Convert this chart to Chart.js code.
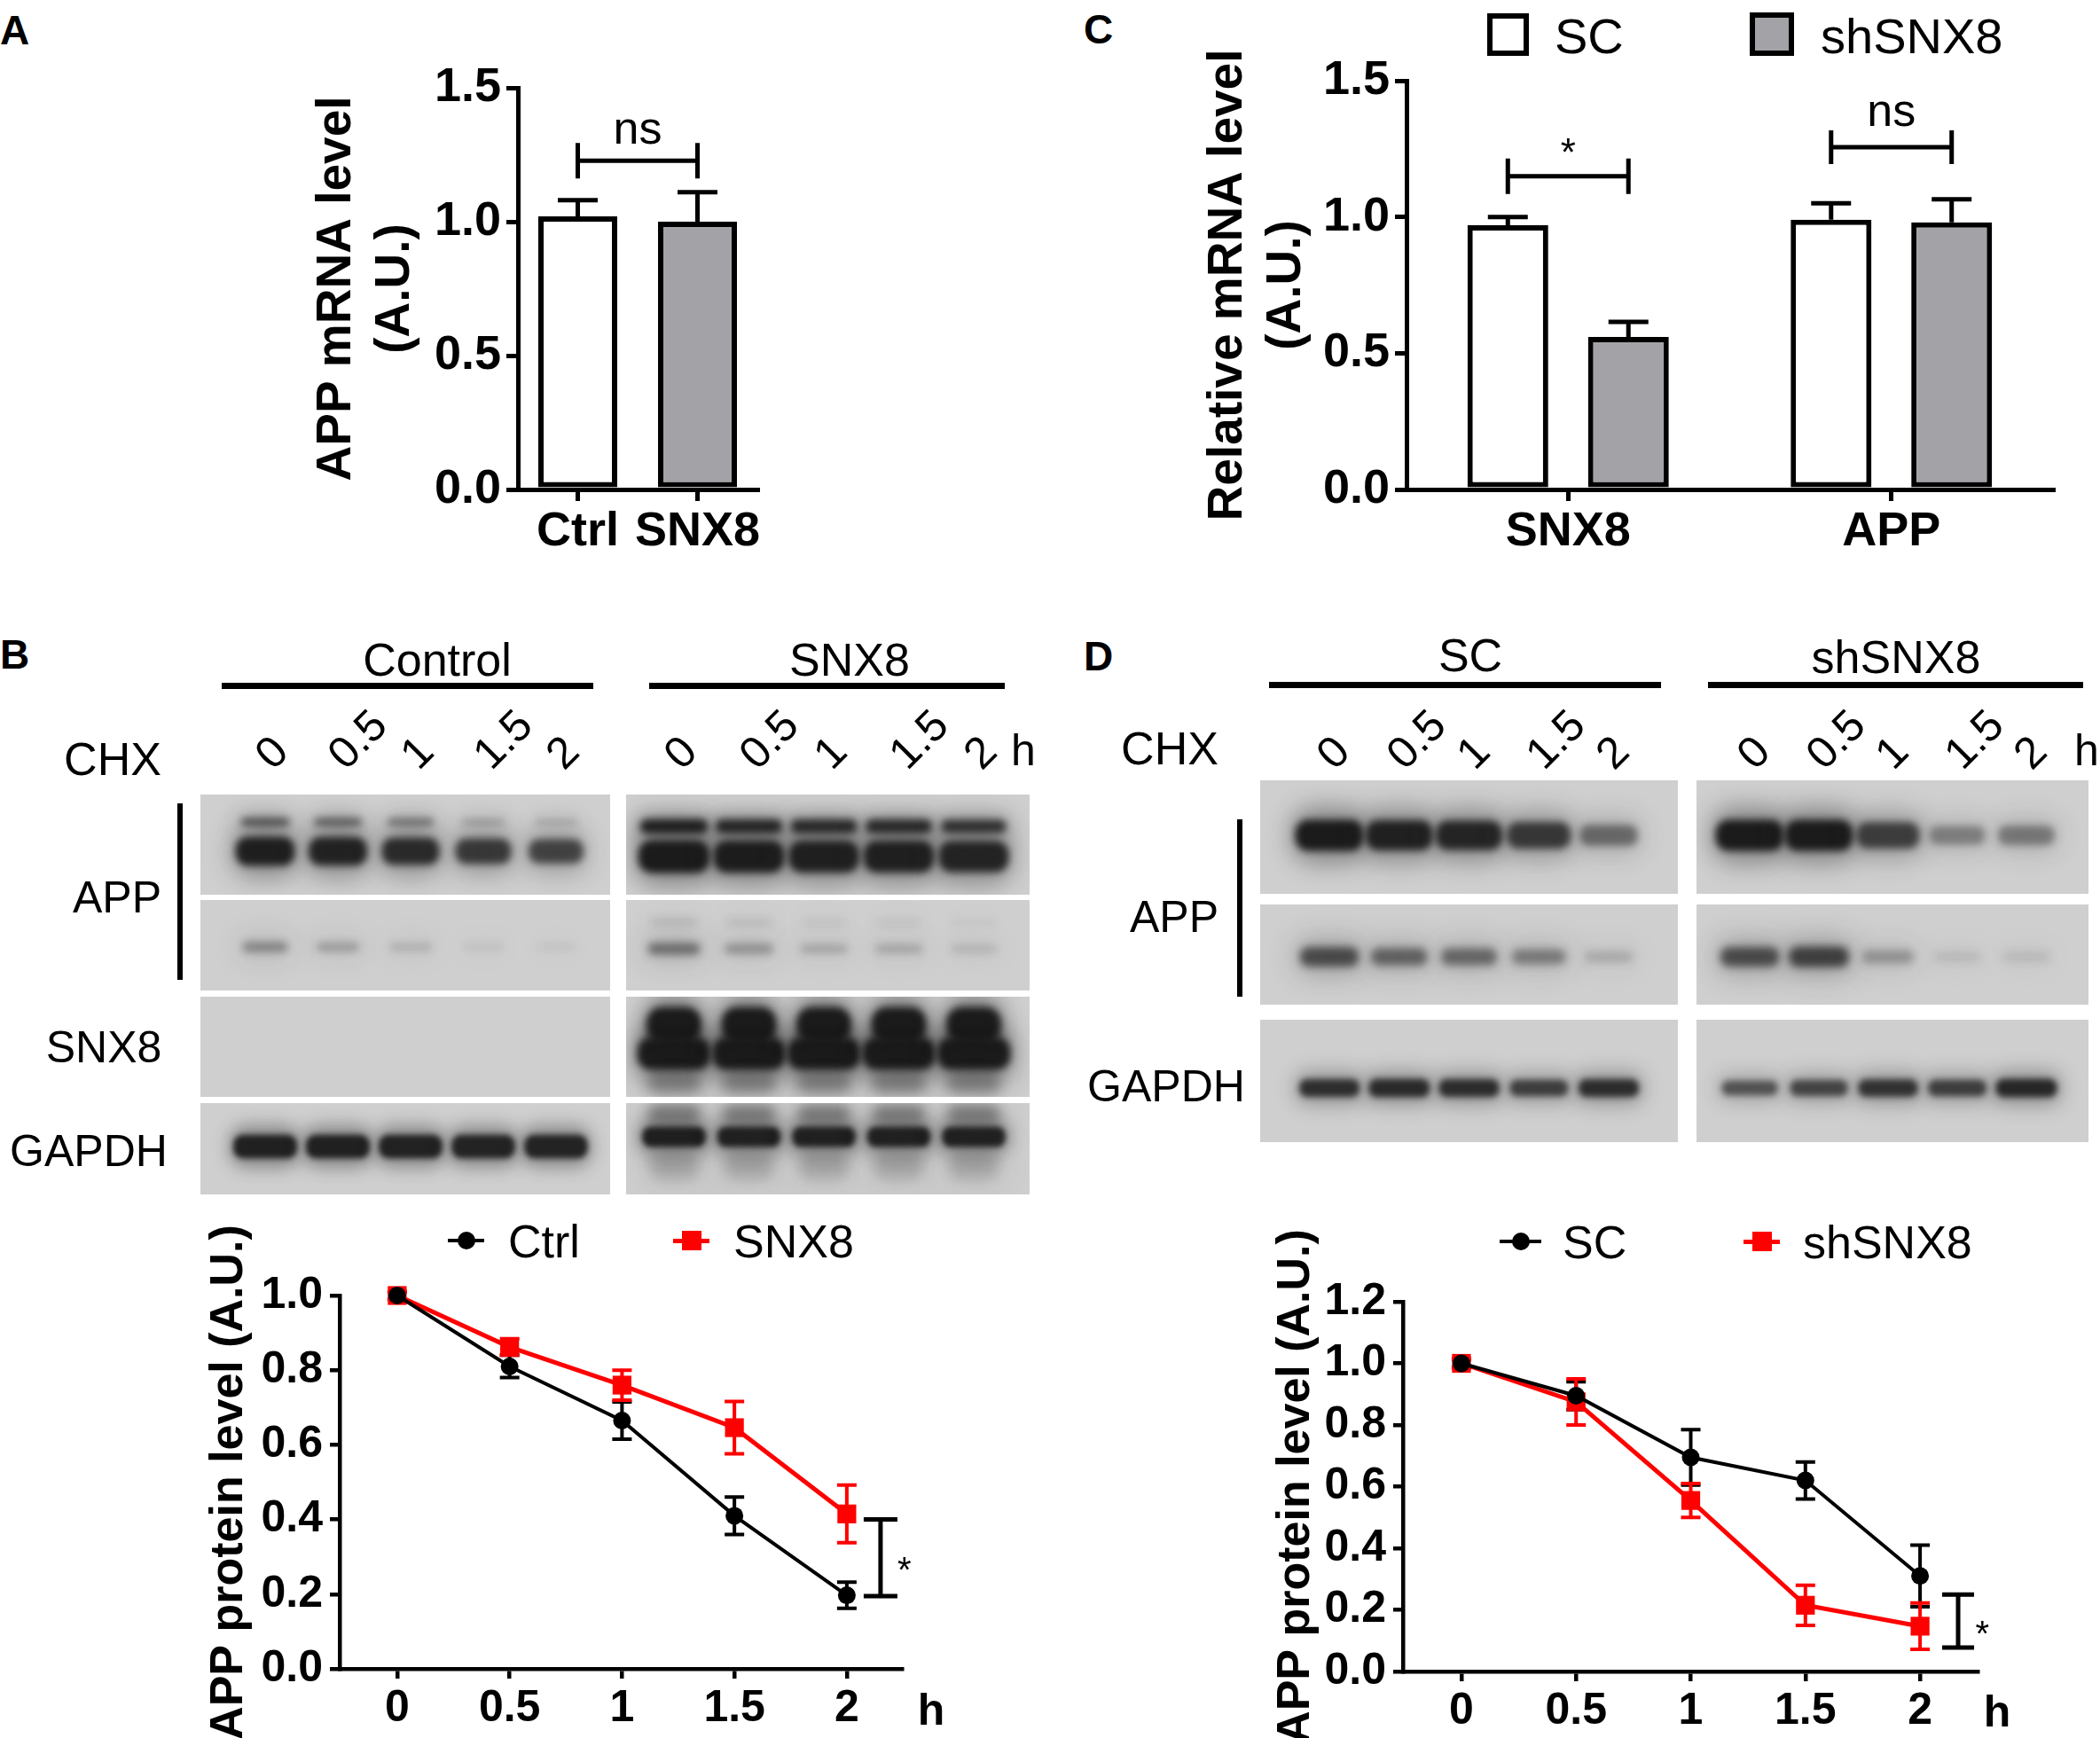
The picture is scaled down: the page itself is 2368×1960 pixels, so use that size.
<!DOCTYPE html>
<html>
<head>
<meta charset="utf-8">
<title>SNX8 and APP turnover</title>
<script src="https://cdn.jsdelivr.net/npm/chart.js@4.4.1/dist/chart.umd.min.js"></script>
<style>
  html, body { margin: 0; padding: 0; background: #fff; }
  #fig { position: relative; width: 2368px; height: 1960px; overflow: hidden; background: #fff;
         font-family: 'Liberation Sans', Arial, Helvetica, sans-serif; color: #000; }
  #fig canvas { position: absolute; }
  .t { position: absolute; white-space: nowrap; line-height: 1; }
  .k { position: absolute; }
</style>
</head>
<body>
<div id="fig"></div>
<script>
// ---------------------------------------------------------------
// Data
// ---------------------------------------------------------------

// A: APP mRNA, Ctrl vs SNX8 overexpression
var mrnaGroups = ['Ctrl', 'SNX8'];
var mrnaAppMean = [1.02, 1.00];
var mrnaAppSem = [0.06, 0.11];
var mrnaTicks = [0, 0.5, 1.0, 1.5];

// C: relative mRNA after knock-down
var kdGenes = ['SNX8', 'APP'];
var kdSeries = ['SC', 'shSNX8'];
var kdScMean = [0.97, 0.99];
var kdScSem = [0.03, 0.06];
var kdShMean = [0.56, 0.98];
var kdShSem = [0.055, 0.085];

// B / D: CHX chase
var chxHours = [0, 0.5, 1, 1.5, 2];
var hourLabels = ['0', '0.5', '1', '1.5', '2'];

var ctrlApp = [1.0, 0.81, 0.665, 0.41, 0.197];
var ctrlAppSem = [0.01, 0.03, 0.05, 0.05, 0.035];
var snx8App = [1.0, 0.862, 0.76, 0.646, 0.415];
var snx8AppSem = [0.01, 0.022, 0.04, 0.07, 0.077];
var protTicksB = [0, 0.2, 0.4, 0.6, 0.8, 1.0];

var scApp = [1.0, 0.895, 0.695, 0.62, 0.31];
var scAppSem = [0.012, 0.045, 0.09, 0.06, 0.1];
var shApp = [1.0, 0.875, 0.555, 0.215, 0.147];
var shAppSem = [0.015, 0.075, 0.055, 0.065, 0.075];
var protTicksD = [0, 0.2, 0.4, 0.6, 0.8, 1.0, 1.2];

// blot band darkness per lane (0 = no band, 1 = saturated)
var bCtrlAppUpper = [0.6, 0.55, 0.45, 0.25, 0.2];
var bCtrlApp = [0.97, 0.94, 0.88, 0.78, 0.72];
var bCtrlAppLong = [0.4, 0.28, 0.18, 0.08, 0.06];
var bCtrlSnx8 = [0, 0, 0, 0, 0];
var bCtrlGapdh = [0.95, 0.95, 0.94, 0.93, 0.93];
var bSnxAppUpper = [0.95, 0.9, 0.88, 0.88, 0.82];
var bSnxApp = [1.0, 0.98, 0.96, 0.96, 0.93];
var bSnxAppLongUpper = [0.18, 0.14, 0.1, 0.1, 0.06];
var bSnxAppLong = [0.5, 0.32, 0.22, 0.22, 0.14];
var bSnxSnx8 = [1.0, 1.0, 1.0, 1.0, 1.0];
var bSnxGapdh = [0.95, 0.94, 0.94, 0.94, 0.94];

var dScApp = [1.0, 0.95, 0.92, 0.78, 0.5];
var dScAppLong = [0.68, 0.55, 0.52, 0.42, 0.18];
var dScGapdh = [0.85, 0.88, 0.86, 0.74, 0.86];
var dShApp = [1.0, 1.0, 0.75, 0.38, 0.42];
var dShAppLong = [0.68, 0.75, 0.3, 0.1, 0.1];
var dShGapdh = [0.62, 0.7, 0.82, 0.74, 0.9];

// ---------------------------------------------------------------
// Styles and helpers
// ---------------------------------------------------------------
var INK = '#000';
var GRAY = '#a3a3a7';
var RED = '#ff0000';
var FAMILY = "'Liberation Sans', Arial, Helvetica, sans-serif";

Chart.defaults.font.family = FAMILY;
Chart.defaults.color = INK;
Chart.defaults.animation = false;
Chart.defaults.plugins.legend.display = false;
Chart.defaults.plugins.tooltip.enabled = false;

var fig = document.getElementById('fig');

function put(box) {
  var c = document.createElement('canvas');
  c.width = box.width;
  c.height = box.height;
  c.style.left = box.left + 'px';
  c.style.top = box.top + 'px';
  fig.appendChild(c);
  return c;
}

// y is the middle of the capital letters
function text(str, x, y, o) {
  o = o || {};
  var size = o.size || 52;
  var d = document.createElement('div');
  d.className = 't';
  d.textContent = str;
  d.style.fontSize = size + 'px';
  d.style.fontWeight = o.bold ? 'bold' : 'normal';
  d.style.left = x + 'px';
  if (o.rotate) {
    d.style.top = (y - size / 2) + 'px';
    d.style.transformOrigin = '0 50%';
    d.style.transform = 'rotate(' + o.rotate + 'deg)';
  } else {
    d.style.top = (y - 0.4885 * size) + 'px';
    var tx = o.align === 'left' ? '0' : (o.align === 'right' ? '-100%' : '-50%');
    d.style.transform = 'translateX(' + tx + ')';
  }
  fig.appendChild(d);
  return d;
}

function block(x, y, w, h, fill, border) {
  var d = document.createElement('div');
  d.className = 'k';
  d.style.left = x + 'px';
  d.style.top = y + 'px';
  d.style.width = w + 'px';
  d.style.height = h + 'px';
  d.style.background = fill || INK;
  if (border) {
    d.style.boxSizing = 'border-box';
    d.style.border = border;
  }
  fig.appendChild(d);
  return d;
}

function dot(cx, cy, r, fill) {
  var d = block(cx - r, cy - r, 2 * r, 2 * r, fill);
  d.style.borderRadius = '50%';
  return d;
}

// canvas box so that the plot area lands on `area`
function frame(area, yW, xH, padTop) {
  var p = {left: 40, top: padTop || 40, right: 40, bottom: 10};
  return {
    box: {
      left: area.l - yW - p.left, top: area.t - p.top,
      width: area.r - area.l + yW + p.left + p.right,
      height: area.b - area.t + xH + p.top + p.bottom
    },
    padding: p, yW: yW, xH: xH
  };
}

function pill(ctx, x, y, w, h) {
  var r = Math.min(w, h) * 0.42;
  var l = x - w / 2, t = y - h / 2, rr = x + w / 2, b = y + h / 2;
  ctx.beginPath();
  ctx.moveTo(l + r, t);
  ctx.arcTo(rr, t, rr, b, r);
  ctx.arcTo(rr, b, l, b, r);
  ctx.arcTo(l, b, l, t, r);
  ctx.arcTo(l, t, rr, t, r);
  ctx.closePath();
  ctx.fill();
}

// ---------------------------------------------------------------
// Plugins
// ---------------------------------------------------------------
function drawErrors(chart, opts) {
  var ctx = chart.ctx, ys = chart.scales.y;
  chart.data.datasets.forEach(function(ds, i) {
    if (!ds.errors) return;
    var meta = chart.getDatasetMeta(i);
    ctx.save();
    ctx.strokeStyle = opts.color || ds.borderColor;
    ctx.lineWidth = opts.width;
    meta.data.forEach(function(el, j) {
      var v = ds.data[j];
      if (typeof v === 'object') v = v.y;
      var e = ds.errors[j], x = el.x, half = opts.cap / 2;
      var top = ys.getPixelForValue(v + e);
      var bot = opts.upperOnly ? ys.getPixelForValue(v) : ys.getPixelForValue(v - e);
      ctx.beginPath();
      ctx.moveTo(x, top);
      ctx.lineTo(x, bot);
      ctx.moveTo(x - half, top);
      ctx.lineTo(x + half, top);
      if (!opts.upperOnly) {
        ctx.moveTo(x - half, bot);
        ctx.lineTo(x + half, bot);
      }
      ctx.stroke();
    });
    ctx.restore();
  });
}

var errorBarPlugin = {
  id: 'errorBars',
  beforeDatasetsDraw: function(chart, args, opts) {
    if (opts.layer === 'before') drawErrors(chart, opts);
  },
  afterDatasetsDraw: function(chart, args, opts) {
    if (opts.layer !== 'before') drawErrors(chart, opts);
  }
};

var bracketPlugin = {
  id: 'brackets',
  afterDatasetsDraw: function(chart, args, opts) {
    var ctx = chart.ctx, xs = chart.scales.x, ys = chart.scales.y;
    ctx.save();
    ctx.strokeStyle = INK;
    ctx.fillStyle = INK;
    ctx.lineWidth = opts.width;
    ctx.textAlign = 'center';
    ctx.textBaseline = 'alphabetic';
    (opts.items || []).forEach(function(b) {
      var tx, ty = ys.getPixelForValue(b.textY);
      ctx.beginPath();
      if (b.from) {
        var x0 = chart.getDatasetMeta(b.from[0]).data[b.from[1]].x;
        var x1 = chart.getDatasetMeta(b.to[0]).data[b.to[1]].x;
        var y = ys.getPixelForValue(b.y);
        ctx.moveTo(x0, y); ctx.lineTo(x1, y);
        ctx.moveTo(x0, y - b.half); ctx.lineTo(x0, y + b.half);
        ctx.moveTo(x1, y - b.half); ctx.lineTo(x1, y + b.half);
        tx = (x0 + x1) / 2;
      } else {
        var x = xs.getPixelForValue(b.x);
        var y0 = ys.getPixelForValue(b.y0), y1 = ys.getPixelForValue(b.y1);
        ctx.moveTo(x, y0); ctx.lineTo(x, y1);
        ctx.moveTo(x - b.half, y0); ctx.lineTo(x + b.half, y0);
        ctx.moveTo(x - b.half, y1); ctx.lineTo(x + b.half, y1);
        tx = xs.getPixelForValue(b.textX);
      }
      ctx.stroke();
      ctx.font = b.size + 'px ' + FAMILY;
      ctx.fillText(b.label, tx, ty);
    });
    ctx.restore();
  }
};

// western blot strips: grey membrane rows, one dataset per band
var blotPlugin = {
  id: 'blot',
  beforeDatasetsDraw: function(chart, args, opts) {
    var ctx = chart.ctx, a = chart.chartArea, ys = chart.scales.y;
    ctx.save();
    ctx.fillStyle = opts.paper;
    opts.rows.forEach(function(r) {
      var t = ys.getPixelForValue(r[0]), b = ys.getPixelForValue(r[1]);
      ctx.fillRect(a.left, t, a.right - a.left, b - t);
    });
    ctx.restore();
  },
  afterDatasetsDraw: function(chart, args, opts) {
    var ctx = chart.ctx, a = chart.chartArea, ys = chart.scales.y;
    chart.data.datasets.forEach(function(ds, i) {
      var st = ds.band, row = opts.rows[st.row];
      var t = ys.getPixelForValue(row[0]), bt = ys.getPixelForValue(row[1]);
      ctx.save();
      ctx.beginPath();
      ctx.rect(a.left, t, a.right - a.left, bt - t);
      ctx.clip();
      chart.getDatasetMeta(i).data.forEach(function(pt, j) {
        var v = ds.data[j].v;
        if (!v) return;
        st.parts.forEach(function(p) {
          var k = p.k === undefined ? 1 : p.k;
          var w = p.w * (0.7 + 0.3 * v), h = p.h * (0.35 + 0.65 * v);
          var cy = pt.y + (p.dy || 0);
          ctx.filter = 'blur(' + (p.blur * 3) + 'px)';
          ctx.fillStyle = 'rgba(' + opts.ink + ',' + (0.38 * k * v) + ')';
          pill(ctx, pt.x, cy, w * 1.1, h * 1.7);
          ctx.filter = 'blur(' + p.blur + 'px)';
          ctx.fillStyle = 'rgba(' + opts.ink + ',' + Math.min(1, k * v * 0.98) + ')';
          pill(ctx, pt.x, cy, w * 0.96, h * 0.92);
        });
      });
      ctx.restore();
    });
  }
};

// ---------------------------------------------------------------
// Bar charts (A, C)
// ---------------------------------------------------------------
function barOptions(f, ticks, title, brackets) {
  var tickFont = {size: 54, weight: 'bold'};
  return {
    responsive: false,
    layout: {padding: f.padding},
    scales: {
      x: {
        ticks: {font: tickFont, padding: 3, color: INK, maxRotation: 0, minRotation: 0, autoSkip: false},
        grid: {offset: false, drawOnChartArea: false, tickLength: 13, lineWidth: 5, color: INK},
        border: {color: INK, width: 5},
        afterFit: function(s) { s.height = f.xH; }
      },
      y: {
        min: 0, max: ticks[ticks.length - 1],
        afterBuildTicks: function(s) { s.ticks = ticks.map(function(v) { return {value: v}; }); },
        ticks: {font: tickFont, padding: 6, color: INK, callback: function(v) { return Number(v).toFixed(1); }},
        grid: {drawOnChartArea: false, tickLength: 13, lineWidth: 5, color: INK},
        border: {color: INK, width: 5},
        title: {display: true, text: title, font: {size: 55, weight: 'bold'}, padding: 0, color: INK},
        afterFit: function(s) { s.width = f.yW; }
      }
    },
    plugins: {
      errorBars: {upperOnly: true, cap: 45, width: 5, color: INK},
      brackets: {width: 5, items: brackets}
    }
  };
}

var fA = frame({l: 584, t: 99, r: 854, b: 552}, 237, 90, 70);
new Chart(put(fA.box), {
  type: 'bar',
  data: {
    labels: mrnaGroups,
    datasets: [{
      data: mrnaAppMean, errors: mrnaAppSem,
      backgroundColor: ['#fff', GRAY], borderColor: INK, borderWidth: 6, borderSkipped: false,
      categoryPercentage: 0.8, barPercentage: 0.824
    }]
  },
  options: barOptions(fA, mrnaTicks, ['APP mRNA level', '(A.U.)'], [
    {from: [0, 0], to: [0, 1], y: 1.228, half: 20, label: 'ns', textY: 1.29, size: 52}
  ]),
  plugins: [errorBarPlugin, bracketPlugin]
});

var fC = frame({l: 1586, t: 91, r: 2315, b: 552}, 234, 90, 80);
new Chart(put(fC.box), {
  type: 'bar',
  data: {
    labels: kdGenes,
    datasets: [
      {label: kdSeries[0], data: kdScMean, errors: kdScSem, backgroundColor: '#fff',
       borderColor: INK, borderWidth: 6, borderSkipped: false, categoryPercentage: 0.746, barPercentage: 0.67},
      {label: kdSeries[1], data: kdShMean, errors: kdShSem, backgroundColor: GRAY,
       borderColor: INK, borderWidth: 6, borderSkipped: false, categoryPercentage: 0.746, barPercentage: 0.67}
    ]
  },
  options: barOptions(fC, mrnaTicks, ['Relative mRNA level', '(A.U.)'], [
    {from: [0, 0], to: [1, 0], y: 1.149, half: 20, label: '*', textY: 1.188, size: 44},
    {from: [0, 1], to: [1, 1], y: 1.256, half: 19, label: 'ns', textY: 1.334, size: 52}
  ]),
  plugins: [errorBarPlugin, bracketPlugin]
});

// legend of C
block(1677, 15, 47, 48, '#fff', '6px solid #000');
text(kdSeries[0], 1753, 40, {size: 56, align: 'left'});
block(1973, 14, 50, 49, GRAY, '6px solid #000');
text(kdSeries[1], 2053, 40, {size: 56, align: 'left'});

// ---------------------------------------------------------------
// Line charts (B, D)
// ---------------------------------------------------------------
function lineSet(label, levels, sem, color, style, radius, width) {
  return {
    label: label,
    data: chxHours.map(function(h, i) { return {x: h, y: levels[i]}; }),
    errors: sem,
    borderColor: color, backgroundColor: color, borderWidth: width,
    pointStyle: style, pointRadius: radius, pointBackgroundColor: color,
    pointBorderColor: color, pointBorderWidth: 0, tension: 0, clip: false
  };
}

function lineOptions(f, xMin, xMax, yTicks, brackets) {
  var tickFont = {size: 50, weight: 'bold'};
  return {
    responsive: false,
    layout: {padding: f.padding},
    scales: {
      x: {
        type: 'linear', min: xMin, max: xMax,
        afterBuildTicks: function(s) { s.ticks = chxHours.map(function(v) { return {value: v}; }); },
        ticks: {font: tickFont, padding: 4, color: INK, maxRotation: 0, minRotation: 0, autoSkip: false,
                callback: function(v, i) { return hourLabels[i]; }},
        grid: {drawOnChartArea: false, tickLength: 11, lineWidth: 4.5, color: INK},
        border: {color: INK, width: 4.5},
        afterFit: function(s) { s.height = f.xH; }
      },
      y: {
        min: 0, max: yTicks[yTicks.length - 1],
        afterBuildTicks: function(s) { s.ticks = yTicks.map(function(v) { return {value: v}; }); },
        ticks: {font: tickFont, padding: 8, color: INK, callback: function(v) { return Number(v).toFixed(1); }},
        grid: {drawOnChartArea: false, tickLength: 11, lineWidth: 4.5, color: INK},
        border: {color: INK, width: 4.5},
        title: {display: true, text: 'APP protein level (A.U.)', font: {size: 52, weight: 'bold'}, padding: 0, color: INK},
        afterFit: function(s) { s.width = f.yW; }
      }
    },
    plugins: {
      errorBars: {cap: 22, width: 4, layer: 'before'},
      brackets: {width: 5, items: brackets}
    }
  };
}

var fB = frame({l: 383, t: 1461, r: 1017, b: 1882}, 156, 80, 120);
new Chart(put(fB.box), {
  type: 'line',
  data: {datasets: [
    lineSet('Ctrl', ctrlApp, ctrlAppSem, INK, 'circle', 10, 4),
    lineSet('SNX8', snx8App, snx8AppSem, RED, 'rect', 15, 5)
  ]},
  options: lineOptions(fB, -0.256, 2.245, protTicksB, [
    {x: 2.15, y0: 0.4, y1: 0.195, half: 19, label: '*', textX: 2.256, textY: 0.233, size: 40}
  ]),
  plugins: [errorBarPlugin, bracketPlugin]
});

var fD = frame({l: 1582, t: 1468, r: 2230, b: 1885}, 152, 80, 120);
new Chart(put(fD.box), {
  type: 'line',
  data: {datasets: [
    lineSet('SC', scApp, scAppSem, INK, 'circle', 10, 4),
    lineSet('shSNX8', shApp, shAppSem, RED, 'rect', 15, 5)
  ]},
  options: lineOptions(fD, -0.255, 2.251, protTicksD, [
    {x: 2.166, y0: 0.25, y1: 0.078, half: 18, label: '*', textX: 2.271, textY: 0.083, size: 40}
  ]),
  plugins: [errorBarPlugin, bracketPlugin]
});

// legends of the chase curves
function lineKey(x0, x1, y, color, square, label, tx) {
  var lw = color === RED ? 5 : 4;
  block(x0, y - lw / 2, x1 - x0, lw, color);
  var m = (x0 + x1) / 2;
  if (square) block(m - 11, y - 11, 22, 22, color);
  else dot(m, y, 10, color);
  text(label, tx, y, {size: 52, align: 'left'});
}
lineKey(505, 546, 1399, INK, false, 'Ctrl', 573);
lineKey(759, 800, 1399, RED, true, 'SNX8', 827);
lineKey(1691, 1738, 1400, INK, false, 'SC', 1762);
lineKey(1966, 2007, 1400, RED, true, 'shSNX8', 2033);
text('h', 1050, 1927, {size: 50, bold: true});
text('h', 2252, 1929, {size: 50, bold: true});

// ---------------------------------------------------------------
// Blots (B, D)
// ---------------------------------------------------------------
function blotColumn(spec) {
  var box = spec.box;
  var canvas = put(box);
  var datasets = spec.bands.map(function(b) {
    return {
      data: b.level.map(function(v, i) { return {x: i, y: b.y, v: v}; }),
      band: b, pointRadius: 0, showLine: false
    };
  });
  var chart = new Chart(canvas, {
    type: 'scatter',
    data: {datasets: datasets},
    options: {
      responsive: false,
      layout: {padding: 0},
      scales: {
        x: {type: 'linear', display: false,
            min: (box.left - spec.lane0) / spec.step,
            max: (box.left + box.width - spec.lane0) / spec.step},
        y: {type: 'linear', display: false, min: 0, max: box.height, reverse: true}
      },
      plugins: {blot: {rows: spec.rows, paper: '#cfcfcf', ink: '24,24,24'}}
    },
    plugins: [blotPlugin]
  });
  // lane labels follow the lane scale
  hourLabels.forEach(function(lab, i) {
    var x = box.left + chart.scales.x.getPixelForValue(i);
    text(lab, x + spec.labelDx, spec.labelY, {size: 50, rotate: -45});
  });
  return chart;
}

var rowsB = [[0, 113], [119, 221], [228, 341], [348, 451]];
blotColumn({
  box: {left: 226, top: 896, width: 462, height: 451}, lane0: 299, step: 82,
  rows: rowsB, labelY: 858, labelDx: -3,
  bands: [
    {row: 0, y: 31, level: bCtrlAppUpper, parts: [{w: 64, h: 14, blur: 4}]},
    {row: 0, y: 64, level: bCtrlApp, parts: [{w: 70, h: 36, blur: 4.5}]},
    {row: 1, y: 172, level: bCtrlAppLong, parts: [{w: 64, h: 20, blur: 5}]},
    {row: 2, y: 282, level: bCtrlSnx8, parts: [{w: 84, h: 60, blur: 4}]},
    {row: 3, y: 397, level: bCtrlGapdh, parts: [{w: 76, h: 30, blur: 3}]}
  ]
});
blotColumn({
  box: {left: 706, top: 896, width: 455, height: 451}, lane0: 760, step: 84.5,
  rows: rowsB, labelY: 858, labelDx: -3,
  bands: [
    {row: 0, y: 36, level: bSnxAppUpper, parts: [{w: 80, h: 18, blur: 4}]},
    {row: 0, y: 70, level: bSnxApp, parts: [{w: 84, h: 40, blur: 4.5}]},
    {row: 1, y: 144, level: bSnxAppLongUpper, parts: [{w: 70, h: 12, blur: 5}]},
    {row: 1, y: 174, level: bSnxAppLong, parts: [{w: 72, h: 22, blur: 5}]},
    {row: 2, y: 282, level: bSnxSnx8, parts: [
      {dy: -22, w: 64, h: 44, blur: 4}, {dy: 10, w: 86, h: 40, blur: 4},
      {dy: 43, w: 62, h: 26, k: 0.3, blur: 7}]},
    {row: 3, y: 386, level: bSnxGapdh, parts: [
      {dy: -26, w: 62, h: 24, k: 0.4, blur: 7}, {w: 76, h: 26, blur: 3},
      {dy: 32, w: 60, h: 34, k: 0.22, blur: 8}]}
  ]
});

var rowsD = [[0, 128], [140, 253], [270, 408]];
blotColumn({
  box: {left: 1421, top: 880, width: 471, height: 408}, lane0: 1499, step: 78.75,
  rows: rowsD, labelY: 858, labelDx: -6,
  bands: [
    {row: 0, y: 62, level: dScApp, parts: [{w: 80, h: 38, blur: 4.5}]},
    {row: 1, y: 199, level: dScAppLong, parts: [{w: 76, h: 30, blur: 5}]},
    {row: 2, y: 347, level: dScGapdh, parts: [{w: 74, h: 24, blur: 3.5}]}
  ]
});
blotColumn({
  box: {left: 1913, top: 880, width: 442, height: 408}, lane0: 1973, step: 78,
  rows: rowsD, labelY: 858, labelDx: -6,
  bands: [
    {row: 0, y: 62, level: dShApp, parts: [{w: 80, h: 38, blur: 4.5}]},
    {row: 1, y: 199, level: dShAppLong, parts: [{w: 76, h: 30, blur: 5}]},
    {row: 2, y: 347, level: dShGapdh, parts: [{w: 74, h: 24, blur: 3.5}]}
  ]
});

// blot headings and row names
text('Control', 493, 743);
block(250, 770, 419, 7);
text('SNX8', 958, 743);
block(732, 770, 401, 7);
text('CHX', 127, 855);
text('h', 1154, 845, {size: 50});
text('APP', 132, 1011, {size: 50});
text('SNX8', 117, 1180, {size: 50});
text('GAPDH', 100, 1297, {size: 50});
block(200, 906, 6, 199);

text('SC', 1658, 738);
block(1431, 769, 442, 7);
text('shSNX8', 2138, 740);
block(1926, 769, 423, 7);
text('CHX', 1319, 843);
text('h', 2353, 845, {size: 50});
text('APP', 1324, 1033, {size: 50});
text('GAPDH', 1315, 1224, {size: 50});
block(1395, 924, 6, 200);

// panel letters
text('A', 0, 33, {size: 46, bold: true, align: 'left'});
text('B', 0, 737, {size: 46, bold: true, align: 'left'});
text('C', 1222, 32, {size: 46, bold: true, align: 'left'});
text('D', 1222, 739, {size: 46, bold: true, align: 'left'});
</script>
</body>
</html>
